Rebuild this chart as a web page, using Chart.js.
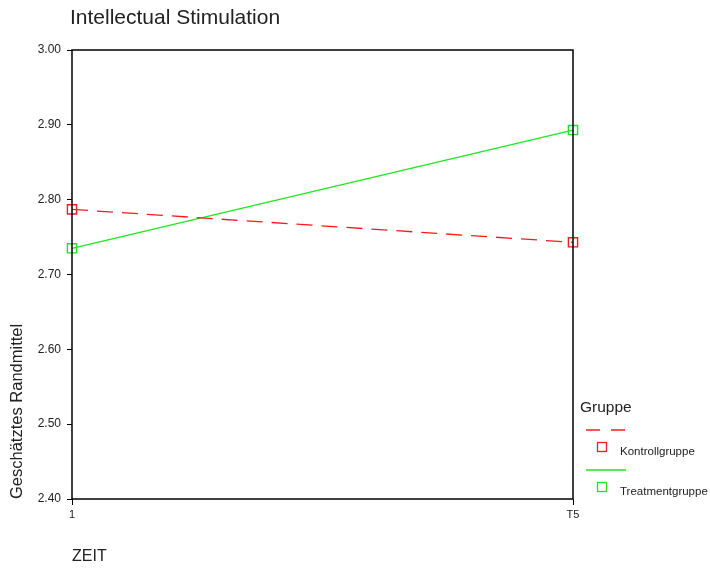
<!DOCTYPE html>
<html><head><meta charset="utf-8">
<script src="https://cdn.jsdelivr.net/npm/chart.js@4"></script>
<style>html,body{margin:0;padding:0;background:#fff}#wrap{width:710px;height:568px;position:relative}</style>
</head><body><div id="wrap"><canvas id="c" width="710" height="568"></canvas></div>
<script>
const categories = ['1', 'T5'];
const kontrollgruppe = [2.787, 2.743];
const treatmentgruppe = [2.735, 2.893];
const yTicks = [2.40, 2.50, 2.60, 2.70, 2.80, 2.90, 3.00];
const seriesNames = ['Kontrollgruppe', 'Treatmentgruppe'];
const chartTitle = 'Intellectual Stimulation';
const xTitle = 'ZEIT';
const yTitle = 'Geschätztes Randmittel';
const legendTitle = 'Gruppe';

const RED = '#ff1a1a', GREEN = '#1ee61e';
const FONT = '"Liberation Sans", Arial, sans-serif';

const extras = {
  id: 'extras',
  afterDraw(chart) {
    const ctx = chart.ctx, a = chart.chartArea;
    ctx.save();
    ctx.strokeStyle = '#000'; ctx.lineWidth = 1.5;
    ctx.strokeRect(a.left, a.top, a.right - a.left, a.bottom - a.top);
    ctx.fillStyle = '#222';
    ctx.font = '21px ' + FONT; ctx.textBaseline = 'middle'; ctx.textAlign = 'left';
    ctx.fillText(chartTitle, 70, 18.5);
    // legend
    ctx.font = '15.5px ' + FONT; ctx.fillStyle = '#222';
    ctx.fillText(legendTitle, 580, 407.5);
    const items = [
      {name: seriesNames[0], color: RED, dash: [14, 11], y: 430},
      {name: seriesNames[1], color: GREEN, dash: [], y: 470}
    ];
    items.forEach(it => {
      ctx.strokeStyle = it.color; ctx.lineWidth = 1.3; ctx.setLineDash(it.dash);
      ctx.beginPath(); ctx.moveTo(586, it.y); ctx.lineTo(626, it.y); ctx.stroke();
      ctx.setLineDash([]);
      ctx.strokeRect(597.5, it.y + 12.5, 9, 9);
      ctx.font = '11.5px ' + FONT; ctx.fillStyle = '#222';
      ctx.fillText(it.name, 620, it.y + 22);
    });
    ctx.restore();
  }
};

new Chart(document.getElementById('c'), {
  type: 'line',
  data: {
    labels: categories,
    datasets: [
      {label: seriesNames[0], data: kontrollgruppe, borderColor: RED, borderWidth: 1.3, borderDash: [16, 9],
       pointStyle: 'rect', pointRadius: 6.5, pointBorderColor: RED, pointBackgroundColor: 'rgba(255,255,255,0)', pointBorderWidth: 1.4},
      {label: seriesNames[1], data: treatmentgruppe, borderColor: GREEN, borderWidth: 1.3,
       pointStyle: 'rect', pointRadius: 6.5, pointBorderColor: GREEN, pointBackgroundColor: 'rgba(255,255,255,0)', pointBorderWidth: 1.4}
    ]
  },
  options: {
    responsive: false, animation: false,
    layout: {padding: {top: 50, right: 137, left: 0, bottom: 0}},
    plugins: {legend: {display: false}, title: {display: false}, tooltip: {enabled: false}},
    scales: {
      x: {
        offset: false,
        grid: {display: true, drawOnChartArea: false, drawTicks: true, tickLength: 6, color: '#000'},
        border: {display: false},
        ticks: {color: '#222', font: {size: 11, family: FONT}, padding: 3, maxRotation: 0},
        title: {display: true, text: xTitle, align: 'start', color: '#222', font: {size: 16, family: FONT}, padding: {top: 0, bottom: 2}},
        afterFit(s) { s.height = 69; }
      },
      y: {
        min: 2.4, max: 3.0,
        afterBuildTicks(s) { s.ticks = yTicks.map(v => ({value: v})); },
        grid: {display: true, drawOnChartArea: false, drawTicks: true, tickLength: 5, color: '#000'},
        border: {display: false},
        ticks: {color: '#222', font: {size: 12, family: FONT}, padding: 6, callback: v => Number(v).toFixed(2)},
        title: {display: true, text: yTitle, align: 'start', color: '#222', font: {size: 16.5, family: FONT}, padding: {top: 8, bottom: 0}},
        afterFit(s) { s.width = 72; }
      }
    }
  },
  plugins: [extras]
});
</script></body></html>
